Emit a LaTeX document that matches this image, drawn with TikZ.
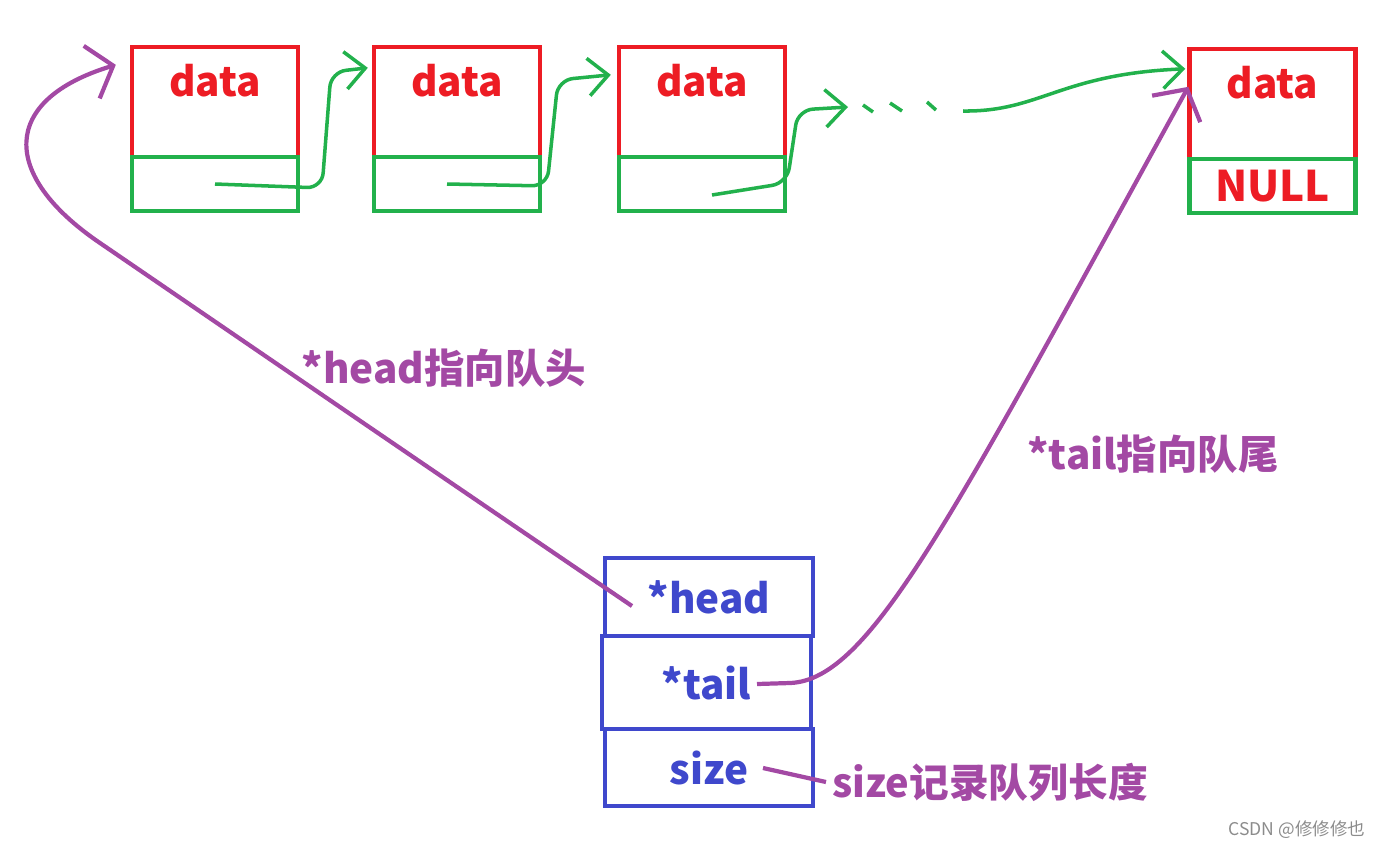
\documentclass[tikz,border=0pt]{standalone}
\usepackage{fontspec}
\setmainfont{Noto Sans CJK SC}
\usepackage{xcolor}
\usepackage{tikz}
\usetikzlibrary{arrows.meta, positioning, calc}

\definecolor{qred}{RGB}{237,28,36}
\definecolor{qgreen}{RGB}{34,177,76}
\definecolor{qblue}{RGB}{63,72,204}
\definecolor{qpurple}{RGB}{163,73,164}

\begin{document}
\begin{tikzpicture}[
    x=0.02cm, y=-0.02cm,
    databox/.style={rectangle, draw=qred, line width=2.5pt, minimum width=3.32cm, minimum height=2.2cm},
    nextbox/.style={rectangle, draw=qgreen, line width=2.5pt, minimum width=3.32cm, minimum height=1.08cm, text=qred, font=\fontsize{24}{28}\selectfont\bfseries},
    datatext/.style={text=qred, font=\fontsize{23}{27}\selectfont\bfseries},
    field/.style={rectangle, draw=qblue, line width=2.5pt, minimum width=4.16cm, text=qblue, font=\fontsize{23}{27}\selectfont\bfseries},
    note/.style={text=qpurple, font=\fontsize{23}{27}\selectfont\bfseries},
    link/.style={-{Straight Barb[length=0.4cm, width=0.75cm]}, qgreen, line width=2pt, rounded corners=0.3cm},
    ptr/.style={-{Straight Barb[length=0.45cm, width=1.1cm]}, qpurple, line width=2.4pt}
]
\useasboundingbox (0,0) rectangle (1381,849);

% list nodes
\node[databox] (d1) at (215,102) {};
\node[databox] (d2) at (457,102) {};
\node[databox] (d3) at (702,102) {};
\node[databox] (d4) at (1272.5,104) {};
\node[nextbox] (n1) at (215,184) {};
\node[nextbox] (n2) at (457,184) {};
\node[nextbox] (n3) at (702,184) {};
\node[nextbox] (n4) at (1272.5,186) {NULL};
\node[datatext] (t1) at ([yshift=-0.72cm]d1.north) {data};
\node[datatext] (t2) at ([yshift=-0.72cm]d2.north) {data};
\node[datatext] (t3) at ([yshift=-0.72cm]d3.north) {data};
\node[datatext] (t4) at ([yshift=-0.72cm]d4.north) {data};

% queue struct
\node[field, minimum height=1.56cm] (head) at (709,597) {*head};
\node[field, minimum height=1.86cm, minimum width=4.18cm] (tail) at (706.5,682.5) {*tail};
\node[field, minimum height=1.54cm] (size) at (709,767.5) {size};

% labels
\node[note] (headnote) at (444,368) {*head指向队头};
\node[note] (tailnote) at (1153,454) {*tail指向队尾};
\node[note, anchor=west, font=\fontsize{22.6}{27}\selectfont\bfseries] (sizenote) at (826,782) {size记录队列长度};
\node[text=black!45, font=\fontsize{10}{12}\selectfont] (mark) at (1297,830) {CSDN @修修修也};

\coordinate (headfrom) at (632,606);
\coordinate (tailfrom) at (757,684);
\coordinate (sizefrom) at (763,768);
\coordinate (dotsend) at (963,111);

% next pointers
\draw[link] (n1.center) -- (322,188) -- (331,72) -- ($(d2.north west)+(-4,23)$);
\draw[link] ([xshift=-0.2cm]n2.center) -- (547,186) -- (558,80) -- ($(d3.north west)+(-6,30)$);
\draw[link] ([xshift=0.2cm,yshift=-0.22cm]n3.center) -- (787,183) -- (798,110) -- (848,107);
\draw[qgreen, line width=2pt] (863,105) -- (873,112);
\draw[qgreen, line width=2pt] (890,103) -- (902,111);
\draw[qgreen, line width=2pt] (927,102) -- (936,110);
\draw[link] (dotsend) .. controls (1040,112) and (1060,74) .. ($(d4.north west)+(-2,22)$);

% head, tail, size
\draw[ptr] (headfrom) .. controls (420,462) and (220,325) .. (100,243) .. controls (0,175) and (0,100) .. ($(d1.north west)+(-14,20)$);
\draw[ptr] (tailfrom) -- (790,683) .. controls (870,680) and (950,520) .. ($(d4.north west)+(1,40)$);
\draw[qpurple, line width=2.4pt] (sizefrom) -- (sizenote.west);

\end{tikzpicture}
\end{document}
